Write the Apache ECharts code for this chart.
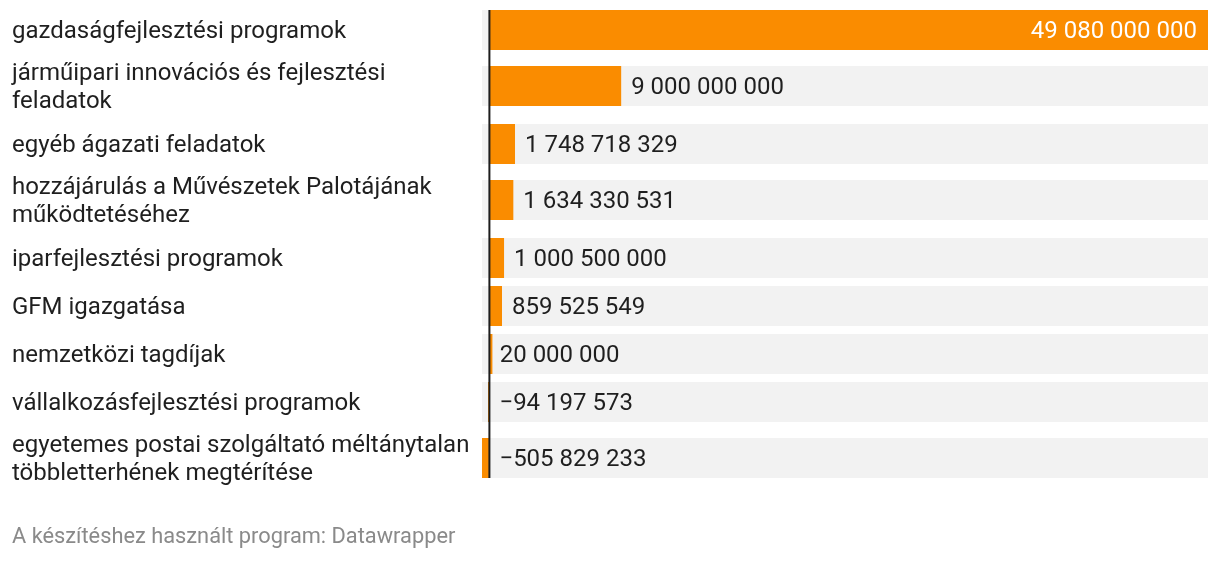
<!DOCTYPE html>
<html><head><meta charset="utf-8">
<script src="https://cdn.jsdelivr.net/npm/echarts@6/dist/echarts.min.js"></script>
<style>html,body{margin:0;padding:0;background:#fff}#c{width:1220px;height:564px}</style>
</head><body><div id="c"></div>
<script>
const categories = [
  'gazdaságfejlesztési programok',
  'járműipari innovációs és fejlesztési\nfeladatok',
  'egyéb ágazati feladatok',
  'hozzájárulás a Művészetek Palotájának\nműködtetéséhez',
  'iparfejlesztési programok',
  'GFM igazgatása',
  'nemzetközi tagdíjak',
  'vállalkozásfejlesztési programok',
  'egyetemes postai szolgáltató méltánytalan\ntöbbletterhének megtérítése'
];
const values = [49080000000, 9000000000, 1748718329, 1634330531, 1000500000, 859525549, 20000000, -94197573, -505829233];
const footerText = 'A készítéshez használt program: Datawrapper';

const BAR = 40, GAP = 8, EXTRA_BEFORE = 8, EXTRA_AFTER = 10;
const FONT = 'Roboto, "Noto Sans", sans-serif';
const lines = categories.map(c => c.split('\n').length);
const tops = [];
let t = 0;
for (let i = 0; i < categories.length; i++) {
  if (i > 0) t += BAR + GAP + (lines[i-1] > 1 ? EXTRA_AFTER : 0) + (lines[i] > 1 ? EXTRA_BEFORE : 0);
  tops.push(t);
}
const totalH = tops[tops.length - 1] + BAR;
const xMin = Math.min(0, ...values), xMax = Math.max(...values);

function fmt(v) {
  const s = Math.abs(v).toString().replace(/\B(?=(\d{3})+(?!\d))/g, ' ');
  return (v < 0 ? '\u2212' : '') + s;
}

const chart = echarts.init(document.getElementById('c'), null, {renderer: 'canvas'});
chart.setOption({
  animation: false,
  backgroundColor: '#fff',
  title: {
    text: footerText, left: 12, top: 527, padding: 0,
    textStyle: {fontFamily: FONT, fontSize: 21.8, fontWeight: 'normal', color: '#8a8a8a'}
  },
  grid: {left: 482, right: 12, top: 10, height: totalH},
  xAxis: {type: 'value', min: xMin, max: xMax, show: false},
  yAxis: {type: 'value', min: 0, max: totalH, inverse: true, show: false},
  series: [
    {
      type: 'custom',
      clip: false,
      data: values.map((v, i) => [v, tops[i], i]),
      renderItem: function (params, api) {
        const v = api.value(0), top = api.value(1), i = api.value(2);
        const p0 = api.coord([0, top]);
        const pv = api.coord([v, top]);
        const pMin = api.coord([xMin, top]);
        const pMax = api.coord([xMax, top]);
        const h = api.size([0, BAR])[1];
        const cy = p0[1] + h / 2 + 1.5;
        const inside = v > xMax * 0.5;
        let bx0 = Math.min(p0[0], pv[0]), bx1 = Math.max(p0[0], pv[0]);
        if (v > 0 && bx1 - bx0 < 3) bx1 = bx0 + 3;
        const children = [
          {type: 'rect', shape: {x: pMin[0], y: p0[1], width: pMax[0] - pMin[0], height: h}, style: {fill: '#f2f2f2'}},
          {type: 'rect', shape: {x: bx0, y: p0[1], width: bx1 - bx0, height: h}, style: {fill: '#fa8c00'}},
          {type: 'text', x: 12, y: cy, style: {text: categories[i], fill: '#1f1f1f', font: '24px ' + FONT, verticalAlign: 'middle', align: 'left', lineHeight: 28}},
          inside
            ? {type: 'text', x: pv[0] - 11, y: cy, style: {text: fmt(v), fill: '#fff', font: '24px ' + FONT, verticalAlign: 'middle', align: 'right'}}
            : {type: 'text', x: Math.max(pv[0], p0[0]) + 10, y: cy, style: {text: fmt(v), fill: '#1f1f1f', font: '24px ' + FONT, verticalAlign: 'middle', align: 'left'}}
        ];
        return {type: 'group', children: children};
      }
    },
    {
      type: 'custom',
      clip: false,
      z: 5,
      data: [[0]],
      renderItem: function (params, api) {
        const a = api.coord([0, 0]), b = api.coord([0, totalH]);
        return {type: 'line', shape: {x1: a[0], y1: a[1], x2: b[0], y2: b[1]}, style: {stroke: '#1d1d1d', lineWidth: 2}};
      }
    }
  ]
});
</script>
</body></html>
